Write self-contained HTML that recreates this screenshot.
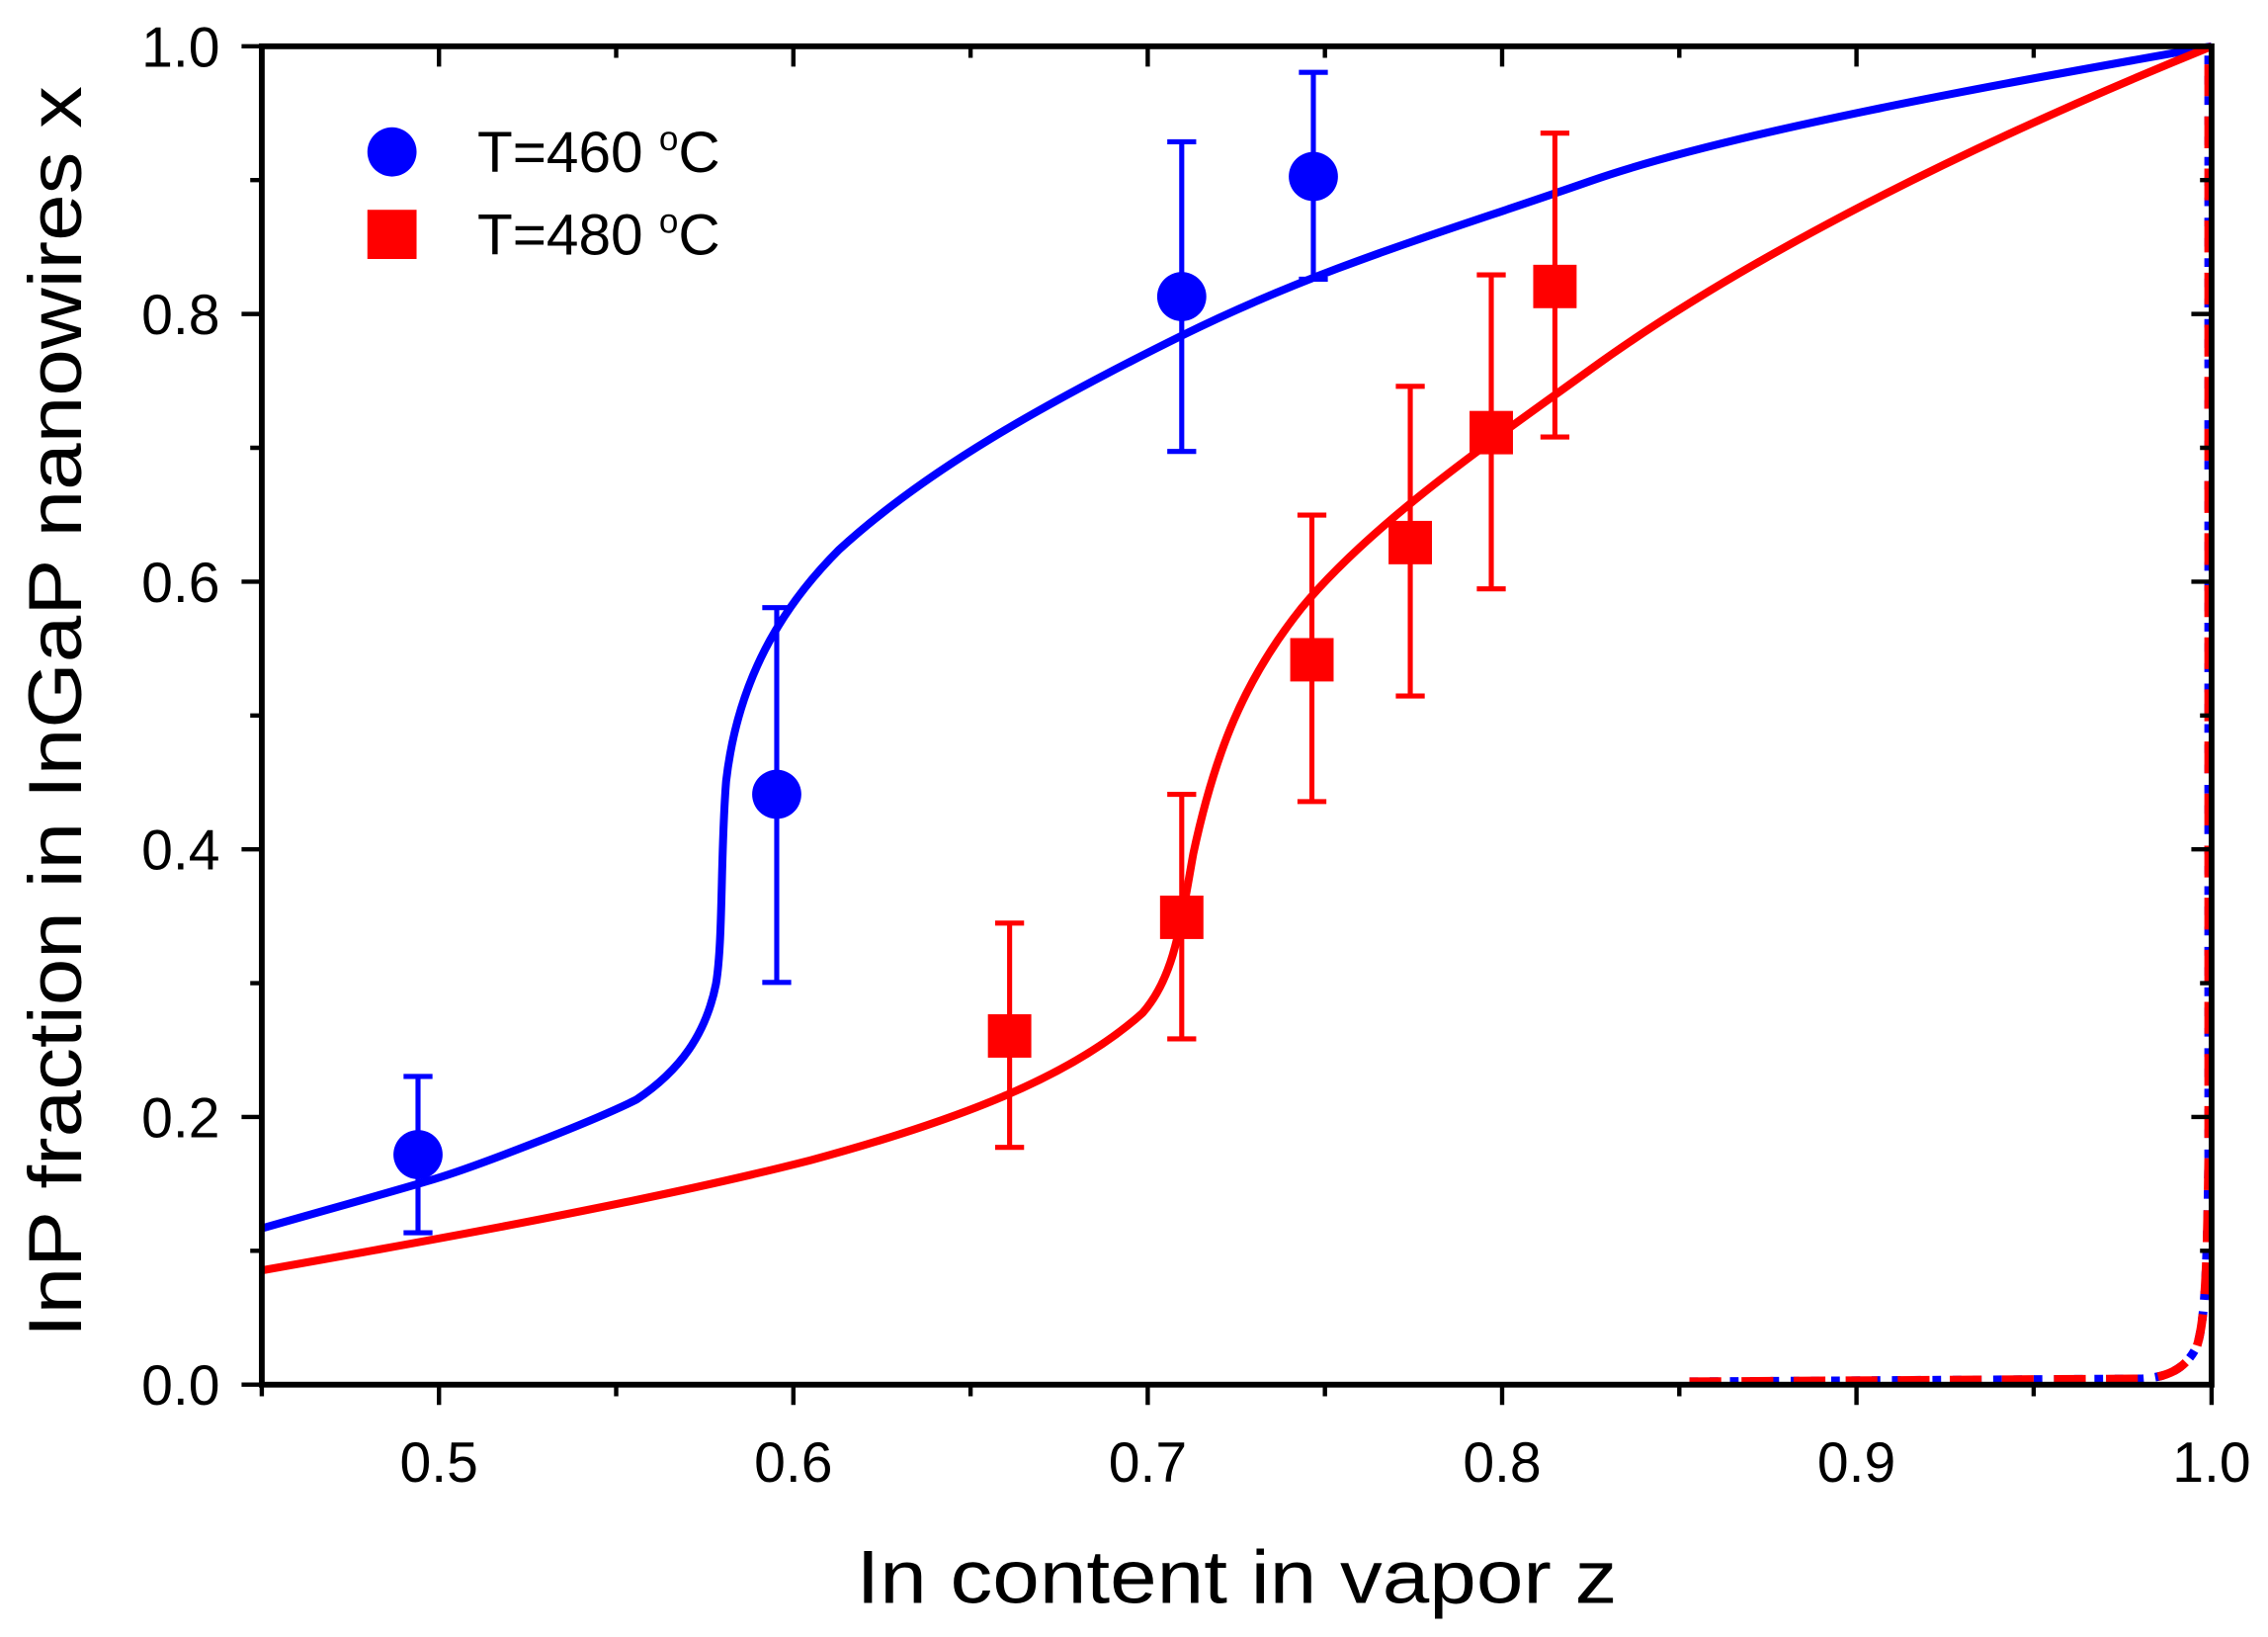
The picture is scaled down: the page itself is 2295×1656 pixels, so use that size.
<!DOCTYPE html>
<html><head><meta charset="utf-8"><style>html,body{margin:0;padding:0;background:#fff}svg{display:block}</style></head>
<body>
<svg width="2295" height="1656" viewBox="0 0 1568 1131.4" preserveAspectRatio="none" xmlns="http://www.w3.org/2000/svg" font-family="Liberation Sans, Arial, sans-serif">
<rect width="1568" height="1132" fill="#fff"/>
<!-- curves -->
<path d="M181,849 C230,835 270,824 300,815 S410,775 440,760 C470,740 488,715 495,680 C500,650 498,590 502,540 C510,470 540,420 580,380 C640,325 720,280 817,232 S1000,160 1100,125 S1400,55 1529,32" fill="none" stroke="#0000ff" stroke-width="5.5"/>
<path d="M181,878 C300,857 450,830 560,802 C660,775 740,745 790,700 C812,675 816,640 825,590 C840,520 860,470 900,420 C950,360 1031,305 1100,255 S1300,125 1529,32" fill="none" stroke="#ff0000" stroke-width="5.5"/>
<!-- dashed near right -->
<path d="M1168,955 L1480,953 C1500,952 1512,945 1519,930 C1525,910 1526,870 1527,800 L1527,34" fill="none" stroke="#0000ff" stroke-width="6" stroke-dasharray="6,8"/>
<path d="M1168,955 L1480,953 C1500,952 1512,945 1519,930 C1525,910 1526,870 1527,800 L1527,34" fill="none" stroke="#ff0000" stroke-width="6" stroke-dasharray="22,14"/>
<!-- error bars blue -->
<g stroke="#0000ff" stroke-width="3.5" fill="none">
<path d="M289,852V744M279,852H299M279,744H299"/>
<path d="M537,679V420M527,679H547M527,420H547"/>
<path d="M817,312V98M807,312H827M807,98H827"/>
<path d="M908,193V50M898,193H918M898,50H918"/>
</g>
<g fill="#0000ff">
<circle cx="289" cy="798" r="17"/><circle cx="537" cy="549" r="17"/><circle cx="817" cy="205" r="17"/><circle cx="908" cy="122" r="17"/>
</g>
<g stroke="#ff0000" stroke-width="3.5" fill="none">
<path d="M698,793V638M688,793H708M688,638H708"/>
<path d="M817,718V549M807,718H827M807,549H827"/>
<path d="M907,554V356M897,554H917M897,356H917"/>
<path d="M975,481V267M965,481H985M965,267H985"/>
<path d="M1031,407V190M1021,407H1041M1021,190H1041"/>
<path d="M1075,302V92M1065,302H1085M1065,92H1085"/>
</g>
<g fill="#ff0000">
<rect x="683" y="701" width="30" height="30"/><rect x="802" y="619" width="30" height="30"/><rect x="892" y="441" width="30" height="30"/><rect x="960" y="360" width="30" height="30"/><rect x="1016" y="284" width="30" height="30"/><rect x="1060" y="183" width="30" height="30"/>
</g>
<!-- axes -->
<rect x="181" y="32" width="1348" height="925" fill="none" stroke="#000" stroke-width="4"/>
<g stroke="#000" stroke-width="3">
<path d="M303.5,957v14M548.5,957v14M793.5,957v14M1038.5,957v14M1283.5,957v14M1529,957v14"/>
<path d="M181,957v8M426,957v8M671,957v8M916,957v8M1161,957v8M1406,957v8"/>
<path d="M303.5,32v14M548.5,32v14M793.5,32v14M1038.5,32v14M1283.5,32v14"/>
<path d="M426,32v8M671,32v8M916,32v8M1161,32v8M1406,32v8"/>
<path d="M181,957h-14M181,772h-14M181,587h-14M181,402h-14M181,217h-14M181,32h-14"/>
<path d="M181,864.5h-8M181,679.5h-8M181,494.5h-8M181,309.5h-8M181,124.5h-8"/>
<path d="M1529,772h-14M1529,587h-14M1529,402h-14M1529,217h-14"/>
<path d="M1529,864.5h-8M1529,679.5h-8M1529,494.5h-8M1529,309.5h-8M1529,124.5h-8"/>
</g>
<g font-size="39" fill="#000" text-anchor="end">
<text x="152" y="971">0.0</text><text x="152" y="786">0.2</text><text x="152" y="601">0.4</text><text x="152" y="416">0.6</text><text x="152" y="231">0.8</text><text x="152" y="46">1.0</text>
</g>
<g font-size="39" fill="#000" text-anchor="middle">
<text x="303.5" y="1024">0.5</text><text x="548.5" y="1024">0.6</text><text x="793.5" y="1024">0.7</text><text x="1038.5" y="1024">0.8</text><text x="1283.5" y="1024">0.9</text><text x="1529" y="1024">1.0</text>
</g>
<text x="855" y="1108" font-size="52" text-anchor="middle" textLength="526" lengthAdjust="spacingAndGlyphs">In content in vapor z</text>
<text transform="translate(56,492) rotate(-90)" font-size="52" text-anchor="middle" textLength="865" lengthAdjust="spacingAndGlyphs">InP fraction in InGaP nanowires x</text>
<!-- legend -->
<circle cx="271" cy="105" r="17" fill="#0000ff"/>
<rect x="254" y="145" width="34" height="34" fill="#ff0000"/>
<text x="330" y="119" font-size="40">T=460 <tspan font-size="24" dy="-15">o</tspan><tspan dy="15">C</tspan></text>
<text x="330" y="176" font-size="40">T=480 <tspan font-size="24" dy="-15">o</tspan><tspan dy="15">C</tspan></text>
</svg>
</body></html>
